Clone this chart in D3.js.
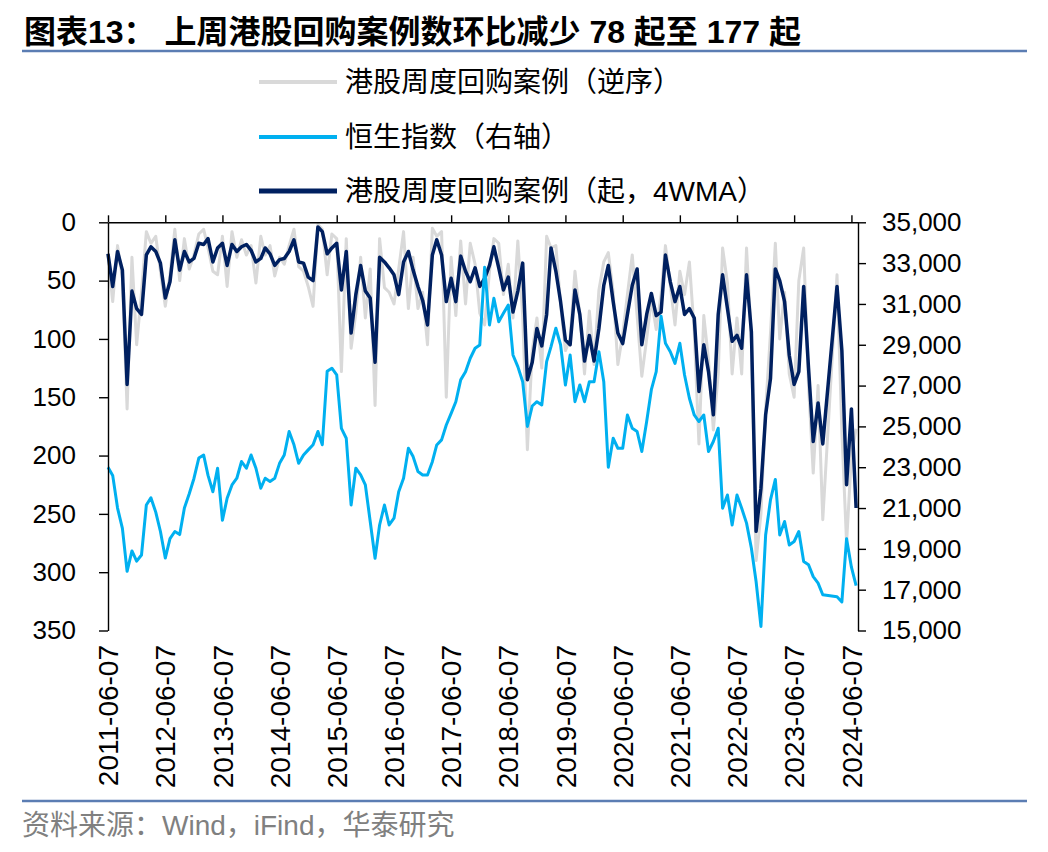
<!DOCTYPE html>
<html><head><meta charset="utf-8">
<script src="https://cdn.jsdelivr.net/npm/d3@7"></script>
<style>body{margin:0;background:#fff}svg{display:block}</style>
</head><body>
<svg id="chart" width="1048" height="852"></svg>
<script>
// ---------------- DATA (monthly samples) ----------------
const seriesStart = "2011-06-07";   // first sample; one sample per month after it
const axisEnd = "2024-07-19";       // last weekly observation in the reference
const titleText = "图表13：  上周港股回购案例数环比减少 78 起至 177 起";
const sourceText = "资料来源：Wind，iFind，华泰研究";
const legendLabels = ["港股周度回购案例（逆序）", "恒生指数（右轴）", "港股周度回购案例（起，4WMA）"];
const xTickLabels = ["2011-06-07","2012-06-07","2013-06-07","2014-06-07","2015-06-07","2016-06-07","2017-06-07",
  "2018-06-07","2019-06-07","2020-06-07","2021-06-07","2022-06-07","2023-06-07","2024-06-07"];
const leftTicks = [0, 50, 100, 150, 200, 250, 300, 350];
const rightTicks = [15000, 17000, 19000, 21000, 23000, 25000, 27000, 29000, 31000, 33000, 35000];

// weekly repurchase cases (grey, reversed axis)
const repurchaseWeekly = [
  28,68,20,48,160,30,105,60,8,18,12,42,
  72,45,6,50,14,40,28,10,6,22,42,45,
  12,55,8,30,15,28,20,52,12,28,20,46,
  30,36,20,6,38,42,55,72,2,6,45,10,
  14,128,14,108,78,30,82,40,157,14,56,60,
  70,40,8,74,30,74,60,105,5,12,8,150,
  30,80,16,70,18,36,78,88,42,14,18,62,
  36,82,16,80,195,110,82,125,12,22,20,70,
  110,100,42,80,130,76,122,58,34,26,60,122,
  96,62,28,80,132,100,66,92,62,20,54,88,
  42,62,34,94,190,80,118,178,130,22,52,130,
  82,130,22,100,290,250,160,95,18,100,60,130,
  150,50,22,140,215,140,255,null,null,45,180,275,
  200,177
];
// Hang Seng Index (right axis)
const hsiIndex = [
  23000,22600,21000,20000,17900,18900,18400,18700,21150,21500,20800,19850,
  18550,19500,19850,19700,21000,21700,22450,23450,23600,22600,21800,22950,
  20400,21480,22130,22460,23280,22950,23600,22950,21970,22460,22300,22460,
  23190,23600,24750,24100,23190,23600,23850,24100,24750,24100,27700,27850,
  27520,24900,24420,21150,22950,22620,22130,20340,18540,20170,21150,20170,
  20500,21800,22460,23930,23520,22790,22620,22620,23270,24090,24340,25070,
  25640,26210,27280,27680,28340,28830,28990,32800,29970,31280,30130,30540,
  30950,28500,27930,27190,25000,26000,26210,26050,28170,28910,29810,29000,
  27030,28500,26210,27030,26210,27190,27190,28660,27190,23000,24420,23930,
  23930,25560,24910,24750,23770,25240,26800,27680,30400,29070,28660,28090,
  29070,27520,26380,25560,25240,25560,23770,24260,24910,20990,21640,20170,
  21640,20990,20260,19030,17400,15200,19680,21400,22400,19680,20340,19190,
  19360,19850,18380,18220,17640,17320,16750,null,null,16650,16400,19500,
  18100,17200
];
// 4-week moving average of weekly repurchase cases (navy, reversed axis)
const repurchase4WMA = [
  27,55,25,41,139,59,74,79,28,21,25,35,
  65,51,15,41,25,34,31,18,19,14,34,22,
  18,37,19,25,21,19,24,34,31,22,27,37,
  32,31,25,15,34,35,47,50,4,8,27,22,
  18,58,25,95,62,37,59,65,120,30,34,39,
  45,62,34,25,41,55,67,88,28,15,28,68,
  48,68,29,42,51,39,55,48,37,21,39,58,
  47,77,59,35,135,120,91,106,79,22,42,68,
  101,105,58,79,119,97,119,91,54,37,68,95,
  104,79,54,40,105,79,61,80,77,28,51,68,
  55,79,74,82,145,105,128,165,79,45,74,102,
  97,108,45,94,265,228,165,134,40,50,68,114,
  139,128,55,125,188,155,190,null,null,55,110,225,
  160,245
];

// ---------------- CHART ----------------
const svg = d3.select("#chart");
const fCJK = "'Liberation Sans','Noto Sans CJK SC',sans-serif";
const fNum = "'Liberation Sans',Arial,sans-serif";
const parse = d3.utcParse("%Y-%m-%d");
const t0 = parse(seriesStart);
const dates = repurchaseWeekly.map((_, i) => d3.utcMonth.offset(t0, i));

const x = d3.scaleUtc().domain([t0, parse(axisEnd)]).range([108, 858]);
const yL = d3.scaleLinear().domain([0, 350]).range([222.3, 630.5]);
const yR = d3.scaleLinear().domain([15000, 35000]).range([630.5, 222.3]);

// title + rules
svg.append("text").attr("x", 24).attr("y", 43).attr("font-family", fCJK)
  .attr("font-size", 32).attr("font-weight", "bold").attr("fill", "#000").text(titleText);
svg.append("line").attr("x1", 22).attr("x2", 1027).attr("y1", 51).attr("y2", 51)
  .attr("stroke", "#5b7db3").attr("stroke-width", 2.5);
svg.append("line").attr("x1", 22).attr("x2", 1027).attr("y1", 801).attr("y2", 801)
  .attr("stroke", "#5b7db3").attr("stroke-width", 2.5);
svg.append("text").attr("x", 22).attr("y", 835).attr("font-family", fCJK)
  .attr("font-size", 28).attr("fill", "#808080").text(sourceText);

// legend
const legColors = ["#d9d9d9", "#00b0f0", "#002060"];
const legWidths = [4, 4, 5];
legendLabels.forEach((lab, i) => {
  const ly = [82, 137, 191][i];
  svg.append("line").attr("x1", 259).attr("x2", 337).attr("y1", ly).attr("y2", ly)
    .attr("stroke", legColors[i]).attr("stroke-width", legWidths[i]);
  svg.append("text").attr("x", 345).attr("y", ly).attr("dy", "0.36em")
    .attr("font-family", fCJK).attr("font-size", 28).attr("fill", "#000").text(lab);
});

// series
function series(vals) {
  return vals.map((v, i) => ({d: dates[i], v})).filter(p => p.v != null);
}
const lineL = d3.line().x(p => x(p.d)).y(p => yL(p.v));
const lineR = d3.line().x(p => x(p.d)).y(p => yR(p.v));
svg.append("path").datum(series(repurchaseWeekly)).attr("d", lineL)
  .attr("fill", "none").attr("stroke", "#d9d9d9").attr("stroke-width", 3).attr("stroke-linejoin", "round");
svg.append("path").datum(series(repurchase4WMA)).attr("d", lineL)
  .attr("fill", "none").attr("stroke", "#002060").attr("stroke-width", 3.5).attr("stroke-linejoin", "round");
svg.append("path").datum(series(hsiIndex)).attr("d", lineR)
  .attr("fill", "none").attr("stroke", "#00b0f0").attr("stroke-width", 3).attr("stroke-linejoin", "round");

// axes
const axStyle = g => {
  g.selectAll("path,line").attr("stroke", "#000").attr("stroke-width", 1.4);
  g.selectAll("text").attr("font-family", fNum).attr("font-size", 26).attr("fill", "#000");
};
svg.append("g").attr("transform", "translate(108,0)")
  .call(d3.axisLeft(yL).tickValues(leftTicks).tickSize(9).tickSizeOuter(0).tickPadding(23))
  .call(axStyle);
svg.append("g").attr("transform", "translate(858,0)")
  .call(d3.axisRight(yR).tickValues(rightTicks).tickSize(8).tickSizeOuter(0).tickPadding(16)
    .tickFormat(d3.format(",")))
  .call(axStyle);
const tickDates = xTickLabels.map(parse);
svg.append("g").attr("transform", `translate(0,${yL(0)})`)
  .call(d3.axisTop(x).tickValues(tickDates).tickSize(7).tickSizeOuter(0).tickFormat(""))
  .call(axStyle);
svg.append("g").selectAll("text").data(xTickLabels).join("text")
  .attr("transform", d => `translate(${x(parse(d))},645) rotate(-90)`)
  .attr("text-anchor", "end").attr("dy", "0.36em")
  .attr("font-family", fNum).attr("font-size", 28).attr("fill", "#000")
  .text(d => d);
</script>
</body></html>
